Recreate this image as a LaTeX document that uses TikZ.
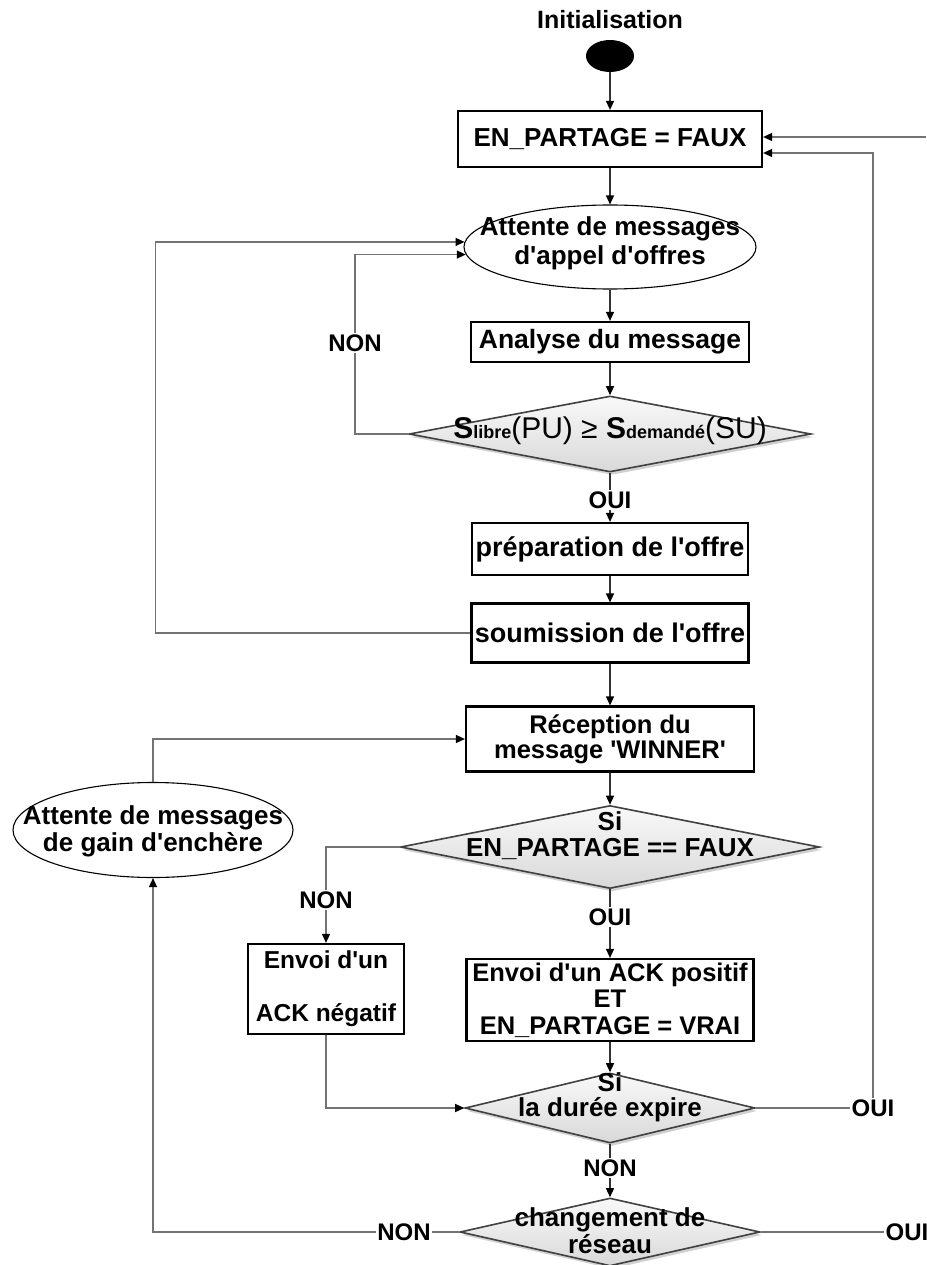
\documentclass[tikz,border=0pt]{standalone}
\usepackage{fontspec}
\setmainfont{Liberation Sans}[Ligatures=TeXOff]
\usetikzlibrary{shapes.geometric,arrows.meta,shadows,calc}
\begin{document}
\begin{tikzpicture}[x=1pt,y=-1pt,
  txt/.style={font=\fontsize{25}{28}\selectfont\bfseries, align=center, inner sep=0pt},
  box/.style={txt, draw=black, line width=2.2pt, fill=white},
  oval/.style={ellipse, draw=black, line width=1.1pt, fill=white, inner sep=0pt},
  dia/.style={diamond, draw=black!75, line width=1.6pt, top color=gray!5, bottom color=gray!30, inner sep=0pt,
    drop shadow={shadow xshift=2pt,shadow yshift=-3pt,opacity=0.3,fill=black!60}},
  lbl/.style={font=\fontsize{24}{26}\selectfont\bfseries, inner sep=1.5pt},
  conn/.style={draw=black!55, line width=1.4pt},
  arr/.style={conn, -{Triangle[length=9pt,width=8pt,color=black]}},
  flow/.style={draw=black!80, line width=1.3pt, -{Triangle[length=9pt,width=8pt,color=black]}},
  flowplain/.style={draw=black!80, line width=1.3pt}
]
\useasboundingbox (0,0) rectangle (926,1265);

% --- nodes ---
\node[txt] (init) at (610,20) {Initialisation};
\node[ellipse, fill=black, minimum width=48pt, minimum height=32pt, inner sep=0pt] (start) at (610,56) {};
\node[box, minimum width=304pt, minimum height=56pt, font=\fontsize{26}{28}\selectfont\bfseries] (b1) at (610,139) {EN\_PARTAGE = FAUX};

\node[oval, minimum width=292pt, minimum height=84pt] (e1) at (610,247) {};
\node[txt, font=\fontsize{26}{29}\selectfont\bfseries] (e1t) at (610,243) {Attente de messages\\d'appel d'offres};

\node[box, minimum width=278pt, minimum height=40pt, font=\fontsize{26.5}{28}\selectfont\bfseries] (b2) at (610,342) {Analyse du message};

\node[dia, minimum width=402pt, minimum height=76pt] (d1) at (610,434) {};
\node[inner sep=0pt] (d1t) at (610,431) {\fontsize{30}{32}\selectfont\textbf{S}{\fontsize{18}{20}\selectfont\textbf{libre}}(PU) ≥ \textbf{S}{\fontsize{18}{20}\selectfont\textbf{demandé}}(SU)};
\node[lbl] (non1) at (355,343) {NON};
\node[lbl] (oui1) at (610,500) {OUI};

\node[box, minimum width=276pt, minimum height=52pt, font=\fontsize{27}{28}\selectfont\bfseries] (b3) at (610,549) {préparation de l'offre};
\node[box, minimum width=277pt, minimum height=59pt, font=\fontsize{27}{28}\selectfont\bfseries] (b4) at (610,633) {soumission de l'offre};
\node[box, minimum width=288pt, minimum height=65pt, font=\fontsize{25.5}{25}\selectfont\bfseries] (b5) at (610,739) {Réception du\\message 'WINNER'};

\node[oval, minimum width=280pt, minimum height=95pt] (e2) at (153,830) {};
\node[txt, font=\fontsize{26}{27}\selectfont\bfseries] (e2t) at (153,831) {Attente de messages\\de gain d'enchère};

\node[dia, minimum width=419pt, minimum height=83pt] (d2) at (610,847) {};
\node[txt, font=\fontsize{26}{26}\selectfont\bfseries] (d2t) at (610,836) {Si\\EN\_PARTAGE == FAUX};
\node[lbl] (non2) at (326,900) {NON};
\node[lbl] (oui2) at (610,917) {OUI};

\node[box, minimum width=156pt, minimum height=90pt, font=\fontsize{24.5}{26.5}\selectfont\bfseries] (b6) at (326,989) {Envoi d'un\\\mbox{}\\ACK négatif};
\node[box, minimum width=287pt, minimum height=82pt, font=\fontsize{25.5}{26.5}\selectfont\bfseries] (b7) at (610,1000) {Envoi d'un ACK positif\\ET\\EN\_PARTAGE = VRAI};

\node[dia, minimum width=290pt, minimum height=70pt] (d3) at (610,1108) {};
\node[txt, font=\fontsize{26}{25}\selectfont\bfseries] (d3t) at (610,1097) {Si\\la durée expire};
\node[lbl] (non3) at (610,1168) {NON};
\node[lbl] (oui3) at (873,1108) {OUI};

\node[dia, minimum width=300pt, minimum height=68pt] (d4) at (610,1232) {};
\node[txt, font=\fontsize{26}{27}\selectfont\bfseries] (d4t) at (610,1231) {changement de\\réseau};
\node[lbl] (non4) at (404,1232) {NON};
\node[lbl, anchor=west] (oui4) at (884,1232) {OUI};

\coordinate (rin) at (926,137);

% --- main flow ---
\draw[flow] (start) -- (b1);
\draw[flow] (b1) -- (e1);
\draw[flow] (e1) -- (b2);
\draw[flow] (b2) -- (d1);
\draw[flowplain] (d1) -- (oui1);
\draw[flow] (oui1) -- (b3);
\draw[flow] (b3) -- (b4);
\draw[flow] (b4) -- (b5);
\draw[flow] (b5) -- (d2);
\draw[flowplain] (d2) -- (oui2);
\draw[flow] (oui2) -- (b7);
\draw[flow] (b7) -- (d3);
\draw[flowplain] (d3) -- (non3);
\draw[flow] (non3) -- (d4);

% --- loops and branches ---
\draw[conn] (d1.west) -| (non1.south);
\draw[arr] (non1.north) |- (e1.183);
\draw[arr] (b4.west) -- ++(-315,0) |- (e1.178);
\draw[arr] (e2.north) |- (b5.west);
\draw[conn] (d2.west) -| (non2.north);
\draw[arr] (non2.south) -- (b6.north);
\draw[arr] (b6.south) |- (d3.west);
\draw[conn] (d3.east) -- (oui3.west);
\draw[arr] (oui3.north) |- ([yshift=-14pt]b1.east);
\draw[arr] (rin) -- (rin -| b1.east);
\draw[conn] (d4.west) -- (non4.east);
\draw[arr] (non4.west) -| (e2.south);
\draw[conn] (d4.east) -- (oui4.west);
\end{tikzpicture}
\end{document}
